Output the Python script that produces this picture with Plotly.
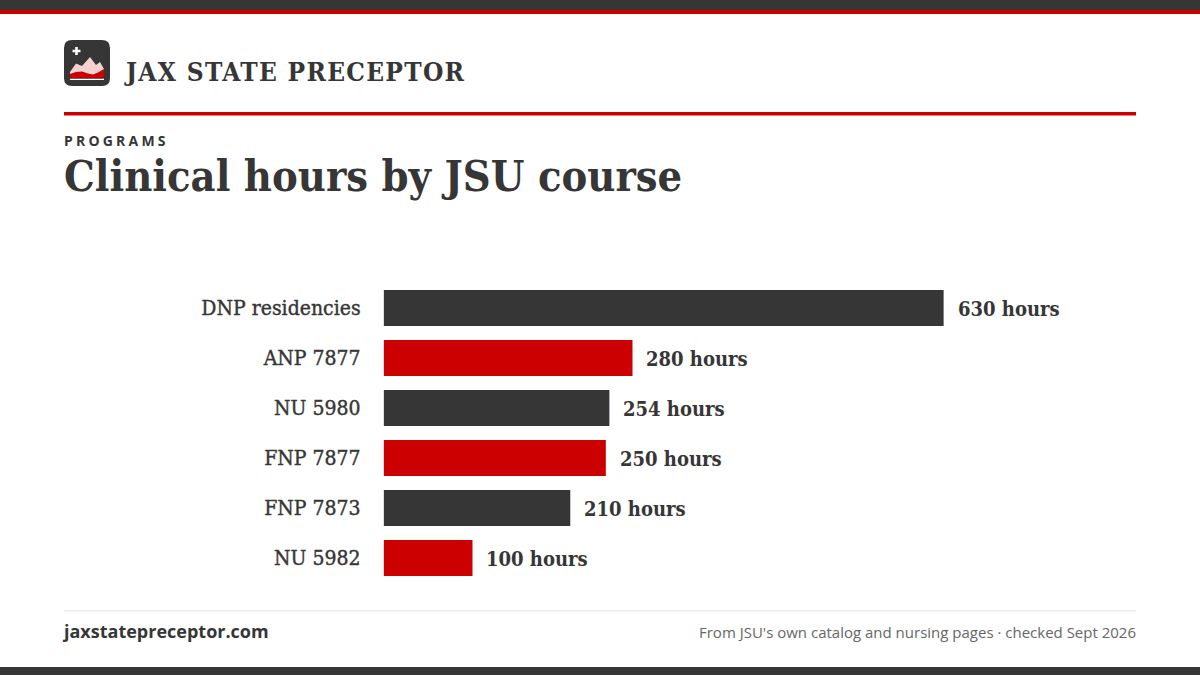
import plotly.graph_objects as go

categories = ["DNP residencies", "ANP 7877", "NU 5980", "FNP 7877", "FNP 7873", "NU 5982"]
hours = [630, 280, 254, 250, 210, 100]
bar_colors = ["#363636", "#cc0000", "#363636", "#cc0000", "#363636", "#cc0000"]
value_unit = "hours"

W, H = 1200, 675
DARK = "#363636"
RED = "#cc0000"
SLAB = "DejaVu Serif Condensed, DejaVu Serif, serif"
SANS = "Open Sans, sans-serif"


def px(x):
    return x / W


def py(y):
    return 1 - y / H


def rect(x0, y0, x1, y1, color):
    return dict(type="rect", xref="paper", yref="paper", x0=px(x0), x1=px(x1), y0=py(y0), y1=py(y1),
                fillcolor=color, line_width=0, layer="below")


def path(points, color, closed=True):
    d = "M" + " L".join(f"{px(x):.5f},{py(y):.5f}" for x, y in points) + (" Z" if closed else "")
    return dict(type="path", xref="paper", yref="paper", path=d, fillcolor=color, line_width=0, layer="above")


def rounded(x0, y0, x1, y1, r, color):
    d = (f"M{px(x0 + r):.5f},{py(y0):.5f} L{px(x1 - r):.5f},{py(y0):.5f} "
         f"Q{px(x1):.5f},{py(y0):.5f} {px(x1):.5f},{py(y0 + r):.5f} "
         f"L{px(x1):.5f},{py(y1 - r):.5f} Q{px(x1):.5f},{py(y1):.5f} {px(x1 - r):.5f},{py(y1):.5f} "
         f"L{px(x0 + r):.5f},{py(y1):.5f} Q{px(x0):.5f},{py(y1):.5f} {px(x0):.5f},{py(y1 - r):.5f} "
         f"L{px(x0):.5f},{py(y0 + r):.5f} Q{px(x0):.5f},{py(y0):.5f} {px(x0 + r):.5f},{py(y0):.5f} Z")
    return dict(type="path", xref="paper", yref="paper", path=d, fillcolor=color, line_width=0, layer="above")


def label(x, y, text, size, color, family, anchor="left", weight=400):
    return dict(xref="paper", yref="paper", x=px(x), y=py(y), text=text, showarrow=False,
                xanchor=anchor, yanchor="middle", borderpad=0, borderwidth=0, align=anchor,
                font=dict(size=size, color=color, family=family, weight=weight))


fig = go.Figure(go.Bar(
    x=hours, y=categories, orientation="h",
    marker=dict(color=bar_colors, line_width=0),
    hoverinfo="skip",
))

shapes = [
    rect(0, 0, W, 10, DARK),
    rect(0, 10, W, 14, RED),
    rect(64, 112, 1136, 115.5, RED),
    rect(64, 610, 1136, 611.5, "#eeeeee"),
    rect(0, 667, W, 675, DARK),
    rounded(64, 40, 110, 86, 8, DARK),
    path([(70, 72), (76, 63.5), (82, 66), (90, 57), (96, 65), (100, 62), (104, 69), (104, 78), (70, 78)], "#f4d2d2"),
    path([(70, 74), (76, 72), (82, 71.5), (88, 73.5), (93, 74.5), (98, 72.5), (104, 69), (104, 78), (70, 78)], RED),
    path([(70, 78.8), (104, 78.8), (104, 80), (70, 80)], "#ffffff"),
    path([(75.2, 47), (77.8, 47), (77.8, 49.8), (80.5, 49.8), (80.5, 52.2), (77.8, 52.2), (77.8, 55), (75.2, 55),
          (75.2, 52.2), (72.5, 52.2), (72.5, 49.8), (75.2, 49.8)], "#ffffff"),
]

annotations = [
    label(123.5, 72, "JAX STATE PRECEPTOR", 26, DARK, SLAB, weight=700),
    label(64, 140.4, "PROGRAMS", 14, DARK, SANS, weight=700),
    label(64, 176, "Clinical hours by JSU course", 43, DARK, SLAB, weight=700),
    label(62, 631, "jaxstatepreceptor.com", 18, DARK, SANS, weight=700),
    label(1136, 632, "From JSU's own catalog and nursing pages · checked Sept 2026", 15, "#666666", SANS, anchor="right"),
]
for cat, val in zip(categories, hours):
    annotations.append(dict(xref="x", yref="y", x=val, y=cat, text=f"{val} {value_unit}", showarrow=False,
                            xanchor="left", yanchor="middle", xshift=13, yshift=-1, borderpad=0,
                            font=dict(size=20, color=DARK, family=SLAB, weight=700)))

fig.update_layout(
    width=W, height=H, autosize=False,
    margin=dict(l=0, r=0, t=0, b=0),
    paper_bgcolor="#ffffff", plot_bgcolor="#ffffff",
    showlegend=False, bargap=0.28,
    shapes=shapes, annotations=annotations,
    xaxis=dict(domain=[383.6 / W, 1005.83 / W], range=[0, 700], visible=False),
    yaxis=dict(domain=[1 - 583 / H, 1 - 283 / H], autorange="reversed", type="category",
               showgrid=False, showline=False, zeroline=False, ticks="",
               ticklabelstandoff=22,
               tickfont=dict(size=21, color=DARK, family=SLAB, weight=400)),
)

post = """
document.documentElement.style.margin='0';document.body.style.margin='0';
var spacing={'PROGRAMS':'3.2px','JAX STATE PRECEPTOR':'1.3px'};
document.querySelectorAll('text').forEach(function(t){
  var s=spacing[t.textContent]; if(s){t.style.letterSpacing=s;}
});
document.querySelectorAll('.ytick text').forEach(function(t){
  t.style.stroke='#363636';t.style.strokeWidth='0.4px';
});
"""
fig.write_html("out.html", post_script=post, config={"displayModeBar": False})
